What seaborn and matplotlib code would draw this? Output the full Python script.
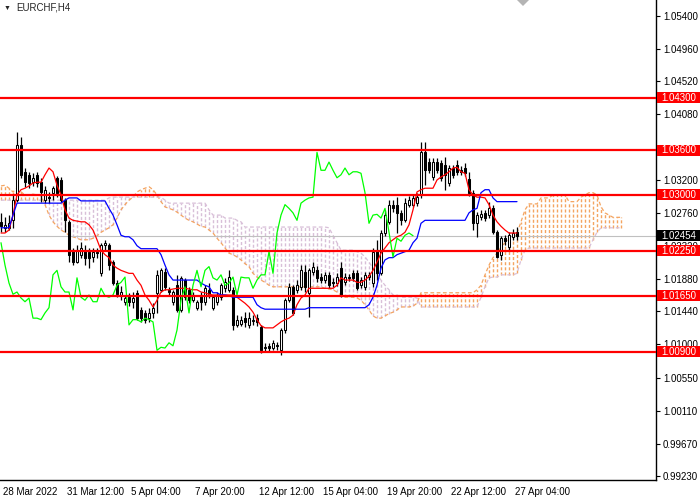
import numpy as np
import pandas as pd
import seaborn as sns
import matplotlib.pyplot as plt
import matplotlib.transforms as mtransforms
from matplotlib.patches import Rectangle, Polygon

# EURCHF H4 candles, bar 0 = 28 Mar 2022
opens = [1.0264, 1.0256, 1.0256, 1.0266, 1.0293, 1.0367, 1.0331, 1.0327, 1.0317, 1.0327,
         1.0317, 1.0293, 1.0297, 1.0303, 1.0323, 1.0320, 1.0293, 1.0264, 1.0226, 1.0210,
         1.0220, 1.0226, 1.0224, 1.0217, 1.0224, 1.0195, 1.0233, 1.0233, 1.0210, 1.0182,
         1.0166, 1.0157, 1.0163, 1.0157, 1.0169, 1.0146, 1.0142, 1.0135, 1.0142, 1.0169,
         1.0173, 1.0197, 1.0173, 1.0157, 1.0179, 1.0146, 1.0186, 1.0173, 1.0159, 1.0149,
         1.0166, 1.0157, 1.0173, 1.0149, 1.0157, 1.0163, 1.0175, 1.0173, 1.0173, 1.0126,
         1.0127, 1.0135, 1.0126, 1.0131, 1.0135, 1.0123, 1.0095, 1.0098, 1.0095, 1.0099,
         1.0092, 1.0119, 1.0159, 1.0177, 1.0173, 1.0177, 1.0197, 1.0169, 1.0197, 1.0199,
         1.0190, 1.0186, 1.0193, 1.0183, 1.0182, 1.0202, 1.0183, 1.0190, 1.0195, 1.0195,
         1.0179, 1.0177, 1.0190, 1.0182, 1.0226, 1.0195, 1.0249, 1.0264, 1.0287, 1.0287,
         1.0276, 1.0266, 1.0287, 1.0287, 1.0289, 1.0300, 1.0357, 1.0344, 1.0324, 1.0344,
         1.0343, 1.0340, 1.0316, 1.0336, 1.0340, 1.0333, 1.0336, 1.0321, 1.0303, 1.0262,
         1.0270, 1.0276, 1.0273, 1.0282, 1.0250, 1.0220, 1.0242, 1.0230, 1.0244, 1.0250]
highs = [1.0276, 1.0270, 1.0273, 1.0300, 1.0384, 1.0378, 1.0336, 1.0331, 1.0329, 1.0331,
         1.0323, 1.0312, 1.0304, 1.0312, 1.0325, 1.0324, 1.0296, 1.0266, 1.0229, 1.0233,
         1.0237, 1.0233, 1.0229, 1.0229, 1.0229, 1.0236, 1.0240, 1.0236, 1.0213, 1.0186,
         1.0178, 1.0166, 1.0169, 1.0170, 1.0173, 1.0150, 1.0146, 1.0149, 1.0155, 1.0199,
         1.0202, 1.0202, 1.0177, 1.0173, 1.0193, 1.0191, 1.0189, 1.0177, 1.0170, 1.0159,
         1.0170, 1.0179, 1.0182, 1.0166, 1.0170, 1.0182, 1.0189, 1.0199, 1.0177, 1.0139,
         1.0138, 1.0143, 1.0143, 1.0139, 1.0141, 1.0126, 1.0102, 1.0102, 1.0106, 1.0103,
         1.0122, 1.0162, 1.0182, 1.0179, 1.0186, 1.0206, 1.0206, 1.0202, 1.0210, 1.0205,
         1.0195, 1.0197, 1.0197, 1.0189, 1.0195, 1.0210, 1.0195, 1.0194, 1.0199, 1.0199,
         1.0190, 1.0197, 1.0197, 1.0229, 1.0240, 1.0253, 1.0280, 1.0293, 1.0293, 1.0297,
         1.0280, 1.0296, 1.0299, 1.0300, 1.0303, 1.0371, 1.0371, 1.0349, 1.0349, 1.0349,
         1.0347, 1.0351, 1.0340, 1.0340, 1.0347, 1.0339, 1.0343, 1.0331, 1.0307, 1.0277,
         1.0280, 1.0280, 1.0291, 1.0287, 1.0253, 1.0245, 1.0246, 1.0250, 1.0254, 1.0257]
lows = [1.0250, 1.0250, 1.0253, 1.0256, 1.0291, 1.0323, 1.0311, 1.0309, 1.0312, 1.0311,
        1.0291, 1.0289, 1.0289, 1.0293, 1.0297, 1.0291, 1.0250, 1.0210, 1.0206, 1.0209,
        1.0216, 1.0206, 1.0202, 1.0210, 1.0216, 1.0191, 1.0226, 1.0199, 1.0179, 1.0163,
        1.0159, 1.0153, 1.0151, 1.0149, 1.0133, 1.0130, 1.0129, 1.0130, 1.0135, 1.0142,
        1.0170, 1.0173, 1.0165, 1.0153, 1.0143, 1.0143, 1.0159, 1.0155, 1.0157, 1.0146,
        1.0146, 1.0153, 1.0162, 1.0146, 1.0153, 1.0159, 1.0170, 1.0170, 1.0119, 1.0123,
        1.0125, 1.0123, 1.0122, 1.0126, 1.0125, 1.0088, 1.0090, 1.0091, 1.0092, 1.0092,
        1.0086, 1.0115, 1.0157, 1.0139, 1.0169, 1.0173, 1.0170, 1.0137, 1.0193, 1.0183,
        1.0182, 1.0182, 1.0175, 1.0177, 1.0178, 1.0163, 1.0179, 1.0185, 1.0185, 1.0173,
        1.0175, 1.0173, 1.0186, 1.0177, 1.0186, 1.0193, 1.0245, 1.0261, 1.0277, 1.0249,
        1.0260, 1.0264, 1.0284, 1.0284, 1.0285, 1.0296, 1.0313, 1.0329, 1.0320, 1.0329,
        1.0319, 1.0307, 1.0312, 1.0323, 1.0327, 1.0327, 1.0325, 1.0299, 1.0253, 1.0244,
        1.0266, 1.0265, 1.0269, 1.0248, 1.0216, 1.0213, 1.0233, 1.0226, 1.0240, 1.0240]
closes = [1.0258, 1.0260, 1.0262, 1.0293, 1.0367, 1.0327, 1.0317, 1.0316, 1.0323, 1.0316,
          1.0304, 1.0307, 1.0296, 1.0309, 1.0303, 1.0293, 1.0266, 1.0220, 1.0210, 1.0226,
          1.0229, 1.0216, 1.0216, 1.0224, 1.0222, 1.0233, 1.0236, 1.0206, 1.0182, 1.0167,
          1.0170, 1.0162, 1.0157, 1.0162, 1.0135, 1.0135, 1.0133, 1.0142, 1.0149, 1.0193,
          1.0199, 1.0177, 1.0170, 1.0170, 1.0146, 1.0189, 1.0163, 1.0159, 1.0166, 1.0157,
          1.0157, 1.0175, 1.0165, 1.0163, 1.0166, 1.0179, 1.0183, 1.0190, 1.0126, 1.0133,
          1.0133, 1.0130, 1.0135, 1.0133, 1.0130, 1.0092, 1.0096, 1.0095, 1.0102, 1.0098,
          1.0119, 1.0159, 1.0177, 1.0142, 1.0179, 1.0199, 1.0177, 1.0199, 1.0204, 1.0189,
          1.0186, 1.0193, 1.0179, 1.0182, 1.0190, 1.0166, 1.0190, 1.0189, 1.0189, 1.0175,
          1.0186, 1.0193, 1.0193, 1.0224, 1.0195, 1.0249, 1.0273, 1.0287, 1.0282, 1.0276,
          1.0266, 1.0289, 1.0293, 1.0296, 1.0297, 1.0357, 1.0333, 1.0333, 1.0344, 1.0333,
          1.0323, 1.0327, 1.0336, 1.0327, 1.0331, 1.0331, 1.0329, 1.0303, 1.0262, 1.0273,
          1.0274, 1.0269, 1.0282, 1.0250, 1.0217, 1.0242, 1.0238, 1.0246, 1.0249, 1.02454]

# Ichimoku lines
tenkan = [1.0249, 1.0249, 1.0253, 1.0273, 1.0300, 1.0307, 1.0309, 1.0312, 1.0316, 1.0317,
          1.0317, 1.0327, 1.0336, 1.0331, 1.0313, 1.0300, 1.0280, 1.0269, 1.0266, 1.0265,
          1.0264, 1.0264, 1.0260, 1.0253, 1.0240, 1.0226, 1.0220, 1.0216, 1.0206, 1.0202,
          1.0199, 1.0197, 1.0195, 1.0195, 1.0186, 1.0179, 1.0166, 1.0159, 1.0150, 1.0159,
          1.0170, 1.0173, 1.0173, 1.0174, 1.0175, 1.0175, 1.0175, 1.0174, 1.0173, 1.0173,
          1.0170, 1.0169, 1.0167, 1.0166, 1.0166, 1.0166, 1.0166, 1.0166, 1.0166, 1.0163,
          1.0159, 1.0155, 1.0150, 1.0143, 1.0133, 1.0125, 1.0122, 1.0122, 1.0122, 1.0126,
          1.0130, 1.0133, 1.0135, 1.0139, 1.0153, 1.0162, 1.0166, 1.0175, 1.0175, 1.0175,
          1.0175, 1.0175, 1.0175, 1.0175, 1.0179, 1.0189, 1.0186, 1.0186, 1.0186, 1.0183,
          1.0183, 1.0186, 1.0191, 1.0199, 1.0210, 1.0222, 1.0229, 1.0236, 1.0240, 1.0244,
          1.0246, 1.0250, 1.0260, 1.0280, 1.0304, 1.0307, 1.0309, 1.0309, 1.0309, 1.0320,
          1.0324, 1.0327, 1.0331, 1.0336, 1.0337, 1.0331, 1.0329, 1.0307, 1.0300, 1.0297,
          1.0297, 1.0296, 1.0287, 1.0273, 1.0264, 1.0258, 1.0253, 1.0249, 1.0249, 1.0249]
kijun = [1.0256, 1.0256, 1.0256, 1.0273, 1.0289, 1.0289, 1.0289, 1.0289, 1.0289, 1.0289,
         1.0289, 1.0289, 1.0289, 1.0289, 1.0289, 1.0289, 1.0293, 1.0296, 1.0296, 1.0296,
         1.0292, 1.0292, 1.0292, 1.0292, 1.0292, 1.0292, 1.0292, 1.0282, 1.0273, 1.0260,
         1.0246, 1.0244, 1.0244, 1.0240, 1.0232, 1.0228, 1.0228, 1.0228, 1.0228, 1.0228,
         1.0220, 1.0206, 1.0193, 1.0186, 1.0186, 1.0186, 1.0186, 1.0186, 1.0186, 1.0186,
         1.0182, 1.0179, 1.0177, 1.0169, 1.0169, 1.0166, 1.0166, 1.0165, 1.0163, 1.0163,
         1.0163, 1.0163, 1.0163, 1.0163, 1.0153, 1.0149, 1.0147, 1.0147, 1.0147, 1.0147,
         1.0147, 1.0147, 1.0147, 1.0147, 1.0147, 1.0147, 1.0147, 1.0149, 1.0149, 1.0149,
         1.0149, 1.0149, 1.0149, 1.0149, 1.0149, 1.0149, 1.0149, 1.0149, 1.0149, 1.0149,
         1.0149, 1.0149, 1.0153, 1.0163, 1.0179, 1.0202, 1.0213, 1.0216, 1.0216, 1.0220,
         1.0222, 1.0224, 1.0226, 1.0236, 1.0242, 1.0262, 1.0266, 1.0266, 1.0266, 1.0266,
         1.0266, 1.0266, 1.0266, 1.0266, 1.0266, 1.0266, 1.0266, 1.0276, 1.0280, 1.0282,
         1.0303, 1.0307, 1.0307, 1.0296, 1.0291, 1.0291, 1.0291, 1.0291, 1.0291, 1.0291]
# Senkou spans, already shifted 26 bars ahead
span_a = [1.0312, 1.0313, 1.0309, 1.0304, 1.0309, 1.0304, 1.0300, 1.0300, 1.0301, 1.0300,
          1.0299, 1.0287, 1.0273, 1.0264, 1.0258, 1.0253, 1.0250, 1.0246, 1.0244, 1.0242,
          1.0240, 1.0240, 1.0240, 1.0242, 1.0245, 1.0250, 1.0253, 1.0256, 1.0260, 1.0269,
          1.0280, 1.0287, 1.0293, 1.0297, 1.0304, 1.0307, 1.0309, 1.0311, 1.0307, 1.0300,
          1.0291, 1.0284, 1.0282, 1.0280, 1.0277, 1.0273, 1.0269, 1.0266, 1.0264, 1.0261,
          1.0258, 1.0257, 1.0253, 1.0249, 1.0242, 1.0236, 1.0229, 1.0222, 1.0220, 1.0217,
          1.0213, 1.0208, 1.0204, 1.0195, 1.0190, 1.0186, 1.0183, 1.0179, 1.0177, 1.0177,
          1.0177, 1.0177, 1.0177, 1.0177, 1.0177, 1.0177, 1.0177, 1.0177, 1.0177, 1.0177,
          1.0177, 1.0175, 1.0174, 1.0173, 1.0170, 1.0166, 1.0163, 1.0163, 1.0163, 1.0162,
          1.0159, 1.0153, 1.0146, 1.0138, 1.0135, 1.0135, 1.0138, 1.0141, 1.0143, 1.0146,
          1.0150, 1.0150, 1.0150, 1.0151, 1.0155, 1.0169, 1.0169, 1.0169, 1.0169, 1.0169,
          1.0169, 1.0169, 1.0169, 1.0169, 1.0169, 1.0169, 1.0169, 1.0169, 1.0169, 1.0173,
          1.0179, 1.0193, 1.0206, 1.0216, 1.0222, 1.0230, 1.0236, 1.0240, 1.0242, 1.0249,
          1.0264, 1.0280, 1.0288, 1.0288, 1.0288, 1.0296, 1.0296, 1.0296, 1.0300, 1.0300,
          1.0300, 1.0300, 1.0291, 1.0291, 1.0291, 1.0297, 1.0300, 1.0303, 1.0303, 1.0300,
          1.0284, 1.0276, 1.0273, 1.0270, 1.0270, 1.0270]
span_b = [1.0293, 1.0293, 1.0293, 1.0293, 1.0293, 1.0293, 1.0293, 1.0293, 1.0293, 1.0293,
          1.0293, 1.0293, 1.0293, 1.0293, 1.0293, 1.0293, 1.0293, 1.0293, 1.0293, 1.0293,
          1.0293, 1.0293, 1.0293, 1.0293, 1.0293, 1.0293, 1.0293, 1.0296, 1.0297, 1.0297,
          1.0297, 1.0297, 1.0297, 1.0297, 1.0297, 1.0297, 1.0297, 1.0297, 1.0297, 1.0297,
          1.0297, 1.0293, 1.0289, 1.0289, 1.0289, 1.0289, 1.0289, 1.0289, 1.0289, 1.0289,
          1.0289, 1.0289, 1.0280, 1.0273, 1.0273, 1.0273, 1.0269, 1.0269, 1.0269, 1.0266,
          1.0264, 1.0257, 1.0257, 1.0257, 1.0257, 1.0257, 1.0257, 1.0257, 1.0257, 1.0257,
          1.0257, 1.0257, 1.0257, 1.0257, 1.0257, 1.0257, 1.0257, 1.0257, 1.0257, 1.0257,
          1.0257, 1.0257, 1.0256, 1.0246, 1.0236, 1.0226, 1.0226, 1.0226, 1.0226, 1.0224,
          1.0222, 1.0217, 1.0210, 1.0202, 1.0193, 1.0186, 1.0179, 1.0173, 1.0166, 1.0166,
          1.0163, 1.0163, 1.0163, 1.0163, 1.0162, 1.0150, 1.0150, 1.0150, 1.0150, 1.0150,
          1.0150, 1.0150, 1.0150, 1.0150, 1.0150, 1.0150, 1.0150, 1.0150, 1.0150, 1.0150,
          1.0163, 1.0177, 1.0189, 1.0190, 1.0190, 1.0193, 1.0193, 1.0193, 1.0193, 1.0195,
          1.0213, 1.0226, 1.0229, 1.0229, 1.0229, 1.0229, 1.0229, 1.0229, 1.0229, 1.0229,
          1.0229, 1.0229, 1.0229, 1.0229, 1.0229, 1.0229, 1.0229, 1.0229, 1.0240, 1.0250,
          1.0256, 1.0256, 1.0256, 1.0256, 1.0256, 1.0256]

levels = [1.0430, 1.0360, 1.0300, 1.0225, 1.0165, 1.0090]
last_price = 1.02454
ytick_vals = [1.05400, 1.04960, 1.04520, 1.04080, 1.03200, 1.02760, 1.02320,
              1.01880, 1.01440, 1.01000, 1.00550, 1.00110, 0.99670, 0.99230]
xtick_bars = [0, 16, 32, 48, 64, 80, 96, 112, 128]
xtick_labels = ['28 Mar 2022', '31 Mar 12:00', '5 Apr 04:00', '7 Apr 20:00', '12 Apr 12:00',
                '15 Apr 04:00', '19 Apr 20:00', '22 Apr 12:00', '27 Apr 04:00']
shift = 26

SANDY = '#F4A460'
THISTLE = '#D8BFD8'
DOT = (0, (3, 2))

sns.set_style("white")
plt.rcParams['font.family'] = ['Liberation Sans', 'DejaVu Sans']

df = pd.DataFrame({'bar': np.arange(len(closes)), 'open': opens, 'high': highs,
                   'low': lows, 'close': closes, 'tenkan': tenkan, 'kijun': kijun})
cloud = pd.DataFrame({'bar': np.arange(len(span_a)), 'a': span_a, 'b': span_b})
chikou = pd.DataFrame({'bar': df['bar'][:-shift].values, 'value': df['close'][shift:].values})

fig = plt.figure(figsize=(7, 5), dpi=100)
ax = fig.add_axes([0, 20 / 500, 656 / 700, 480 / 500])

# cloud: dashed vertical stroke per bar between the two spans
up = (cloud['a'] >= cloud['b']).values
lo = np.minimum(cloud['a'], cloud['b']).values
hi = np.maximum(cloud['a'], cloud['b']).values
ax.vlines(cloud['bar'].values[up], lo[up], hi[up], colors=SANDY, linewidth=1.0,
          linestyles=(0, (2.2, 1.5)), zorder=1)
ax.vlines(cloud['bar'].values[~up], lo[~up], hi[~up], colors=THISTLE, linewidth=1.0,
          linestyles=(0, (2.2, 1.5)), zorder=1)
sns.lineplot(data=cloud, x='bar', y='a', ax=ax, color=SANDY, linewidth=0.9,
             linestyle=DOT, zorder=1.2)
sns.lineplot(data=cloud, x='bar', y='b', ax=ax, color=THISTLE, linewidth=0.9,
             linestyle=DOT, zorder=1.2)

ax.axhline(last_price, color='#c0c0c0', linewidth=0.8, zorder=1.5)

# candles
bull = (df['close'] >= df['open']).values
body_lo = np.minimum(df['open'], df['close']).values
body_h = np.maximum((df['close'] - df['open']).abs(), 0.00008).values
ax.vlines(df['bar'], df['low'], df['high'], colors='black', linewidth=0.9, zorder=3)
ax.bar(df['bar'].values[bull], body_h[bull], bottom=body_lo[bull], width=0.6,
       color='white', edgecolor='black', linewidth=0.75, zorder=3.5)
ax.bar(df['bar'].values[~bull], body_h[~bull], bottom=body_lo[~bull], width=0.6,
       color='black', edgecolor='black', linewidth=0.75, zorder=3.5)

# tenkan / kijun / chikou
sns.lineplot(data=df, x='bar', y='tenkan', ax=ax, color='red', linewidth=0.9, zorder=4)
sns.lineplot(data=df, x='bar', y='kijun', ax=ax, color='blue', linewidth=0.9, zorder=4)
sns.lineplot(data=chikou, x='bar', y='value', ax=ax, color='#00ff00', linewidth=0.9, zorder=4)

for lvl in levels:
    ax.axhline(lvl, color='red', linewidth=1.6, zorder=5)

ax.set_xlim(-0.25, 163.75)
ax.set_ylim(0.99183, 1.0561)
ax.set_xlabel('')
ax.set_ylabel('')

ax.yaxis.tick_right()
ax.set_yticks(ytick_vals)
ax.set_yticklabels([f'{v:.5f}' for v in ytick_vals])
ax.tick_params(axis='y', labelsize=7, length=3, width=0.8, pad=2, colors='black')
ax.set_xticks(xtick_bars)
ax.set_xticklabels(xtick_labels, ha='left')
ax.tick_params(axis='x', labelsize=7, length=3, width=0.8, pad=2, colors='black')
offset = mtransforms.ScaledTranslation(1.5 / 72, 0, fig.dpi_scale_trans)
for lab in ax.get_xticklabels():
    lab.set_transform(lab.get_transform() + offset)

for side in ['top', 'left']:
    ax.spines[side].set_visible(False)
for side in ['right', 'bottom']:
    ax.spines[side].set_color('black')
    ax.spines[side].set_linewidth(1)

# price labels on the right scale, drawn over the tick labels
trans = mtransforms.blended_transform_factory(fig.transFigure, ax.transData)
box_h = 11 / 7470
for lvl, fc in [(v, 'red') for v in levels] + [(last_price, 'black')]:
    ax.add_patch(Rectangle((657 / 700, lvl - box_h / 2), 43 / 700, box_h, transform=trans,
                           facecolor=fc, edgecolor='none', clip_on=False, zorder=6))
    ax.text(661 / 700, lvl, f'{lvl:.5f}', transform=trans, color='white', fontsize=7,
            ha='left', va='center', zorder=7, clip_on=False)

fig.text(16 / 700, 1 - 8 / 500, 'EURCHF,H4', fontsize=7, ha='left', va='center')
fig.text(4 / 700, 1 - 8 / 500, '▼', fontsize=5, ha='left', va='center')
# chart-shift marker, cut by the top edge
fig.patches.append(Polygon([(517 / 700, 1.0), (523 / 700, 1 - 6 / 500), (529 / 700, 1.0),
                            (523 / 700, 1 + 6 / 500)], closed=True, transform=fig.transFigure,
                           facecolor='#b4b4b4', edgecolor='none'))

fig.savefig('out.png', dpi=100)
